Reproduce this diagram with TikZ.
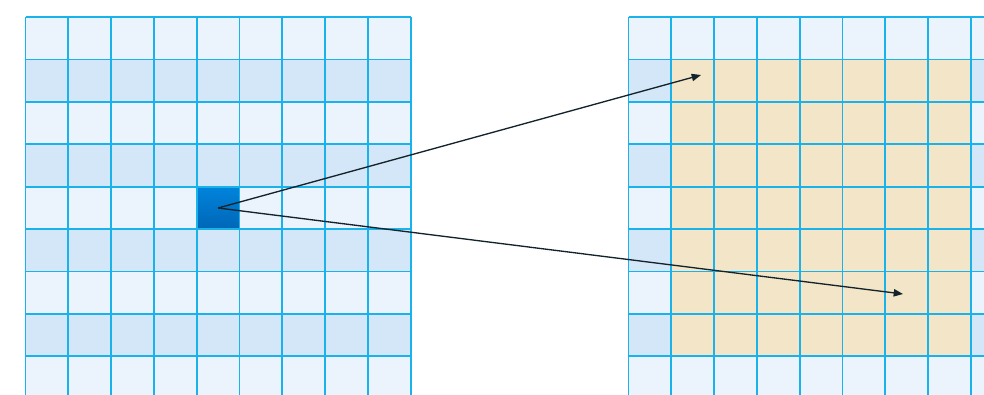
\documentclass[tikz,border=0pt]{standalone}
\usetikzlibrary{arrows.meta}
\definecolor{gridline}{HTML}{1AB2EA}
\definecolor{rowlight}{HTML}{EBF4FD}
\definecolor{rowdark}{HTML}{D4E7F8}
\definecolor{paper}{HTML}{F3E6C8}
\definecolor{celltop}{HTML}{0084DC}
\definecolor{cellbot}{HTML}{0066B6}
\definecolor{pointer}{HTML}{13232B}
\begin{document}
\begin{tikzpicture}[x=0.75pt,y=-0.75pt]
  \useasboundingbox (0,0) rectangle (984,394);
  \clip (0,0) rectangle (984,394);
  % row stripes of both grids
  \foreach \gx in {25.5,628.5}{
    \fill[rowlight] (\gx,17) rectangle ++(385.2,400);
    \foreach \r in {1,3,5,7}
      \fill[rowdark] (\gx,{17+42.4*\r}) rectangle ++(385.2,42.4);
  }
  % output region
  \fill[paper] (671.3,59.4) rectangle (970.9,356.2);
  % the selected cell
  \node[inner sep=0,minimum width=32.1pt,minimum height=31.8pt,
        top color=celltop,bottom color=cellbot] (src) at (218.1,208) {};
  % grid lines
  \foreach \gx in {25.5,628.5}{
    \foreach \k in {0,...,9}
      \draw[gridline,line width=1.35pt] ({\gx+42.8*\k},17) -- ++(0,400);
    \foreach \k in {0,...,8}
      \draw[gridline,line width=1.35pt] (\gx,{17+42.4*\k}) -- ++(385.2,0);
  }
  \coordinate (tl) at (701,75);
  \coordinate (br) at (903,294);
  \draw[pointer,line width=1pt,-{Triangle[length=7pt,width=5.5pt]}] (src.center) -- (tl);
  \draw[pointer,line width=1pt,-{Triangle[length=7pt,width=5.5pt]}] (src.center) -- (br);
\end{tikzpicture}
\end{document}
